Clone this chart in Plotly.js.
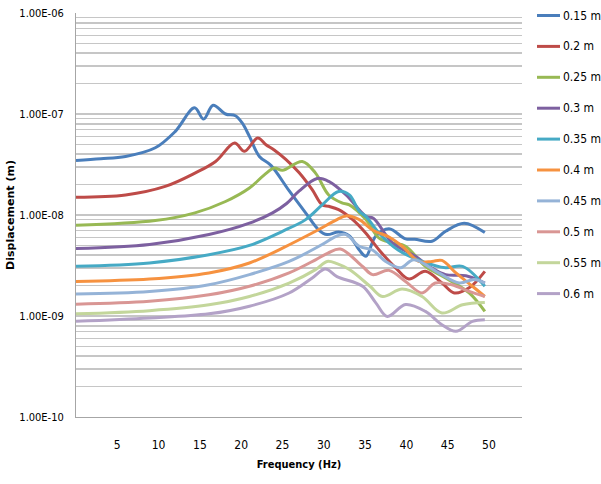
<!DOCTYPE html>
<html>
<head>
<meta charset="utf-8">
<script src="https://cdn.plot.ly/plotly-3.0.1.min.js"></script>
<style>html,body{margin:0;padding:0;background:#fff;}#chart{width:601px;height:484px;}</style>
</head>
<body>
<div id="chart"></div>
<script>
// Series names
const seriesNames = ['0.15 m','0.2 m','0.25 m','0.3 m','0.35 m','0.4 m','0.45 m','0.5 m','0.55 m','0.6 m'];

// Frequencies (Hz) and displacements (m) per series
const f015 = [0, 3, 6, 9.6, 12, 14.35, 15.45, 16.6, 18.1, 19.3, 20.1, 21, 22.2, 23.6, 25.8, 27.8, 29.4, 30.4, 31.8, 33.1, 34.3, 35.1, 36.3, 37.9, 39.9, 41, 43.1, 44.75, 47, 49.5];
const d015 = [3.47e-8, 3.6e-8, 3.8e-8, 4.63e-8, 6.7e-8, 1.15e-7, 8.9e-8, 1.22e-7, 1.0e-7, 9.6e-8, 8.2e-8, 6.0e-8, 3.8e-8, 3.1e-8, 1.74e-8, 1.05e-8, 7.1e-9, 6.4e-9, 6.8e-9, 6.2e-9, 4.5e-9, 3.9e-9, 6.2e-9, 7.3e-9, 5.8e-9, 5.75e-9, 5.5e-9, 6.9e-9, 8.3e-9, 6.7e-9];

const f020 = [0, 6, 10.8, 14.4, 16.9, 19.2, 20.4, 22, 23, 24, 25.4, 27, 28.6, 29.8, 30.6, 31.8, 33.5, 35.1, 36.7, 38.7, 40.3, 42.3, 44.3, 45.8, 47.6, 49.5];
const d020 = [1.5e-8, 1.58e-8, 1.92e-8, 2.6e-8, 3.39e-8, 5.16e-8, 4.27e-8, 5.8e-8, 4.97e-8, 4.4e-8, 3.55e-8, 2.63e-8, 1.78e-8, 1.26e-8, 1.22e-8, 1.13e-8, 9.0e-9, 6.6e-9, 4.5e-9, 3.0e-9, 2.32e-9, 2.77e-9, 2.12e-9, 1.69e-9, 1.9e-9, 2.77e-9];

const f025 = [0, 9.6, 14.4, 18.1, 21, 22.8, 24, 25, 27.4, 29, 30.6, 32.2, 33.1, 35.1, 36.7, 38.3, 39.9, 42.3, 44.75, 47.6, 49.5];
const d025 = [7.9e-9, 8.8e-9, 1.05e-8, 1.36e-8, 1.85e-8, 2.5e-8, 2.92e-8, 2.77e-8, 3.39e-8, 2.6e-8, 1.58e-8, 1.32e-8, 1.26e-8, 9.0e-9, 5.9e-9, 5.3e-9, 4.9e-9, 3.1e-9, 2.38e-9, 1.69e-9, 1.11e-9];

const f030 = [0, 8.9, 16.1, 21, 23.8, 25.5, 27, 29.2, 30.6, 32.7, 35.1, 36, 38.3, 41.1, 43.1, 44.75, 47.2, 49.5];
const d030 = [4.65e-9, 5.1e-9, 6.4e-9, 8.3e-9, 1.05e-8, 1.3e-8, 1.72e-8, 2.3e-8, 2.15e-8, 1.58e-8, 9.7e-9, 9.3e-9, 5.3e-9, 3.9e-9, 2.98e-9, 2.57e-9, 2.5e-9, 2.12e-9];

const f035 = [0, 8.9, 16.1, 21, 25, 27.8, 29.8, 31.8, 33.1, 34.3, 35.1, 36.7, 39, 41.9, 44.75, 46.8, 49.5];
const d035 = [3.1e-9, 3.35e-9, 4.05e-9, 5.0e-9, 6.9e-9, 9.0e-9, 1.26e-8, 1.71e-8, 1.58e-8, 1.09e-8, 9.7e-9, 6.6e-9, 4.5e-9, 3.47e-9, 3.0e-9, 3.1e-9, 1.97e-9];

const f040 = [0, 8.9, 16.1, 21, 25, 29, 31.6, 32.7, 34.3, 35.9, 37.9, 39.5, 41.5, 43.1, 44.3, 46, 48, 49.5];
const d040 = [2.2e-9, 2.32e-9, 2.67e-9, 3.35e-9, 4.7e-9, 6.9e-9, 9.0e-9, 9.8e-9, 9.0e-9, 7.1e-9, 6.05e-9, 4.9e-9, 3.47e-9, 3.47e-9, 3.55e-9, 2.67e-9, 1.97e-9, 1.56e-9];

const f045 = [0, 8.9, 16.1, 21, 25.8, 29.8, 31.6, 32.7, 34.3, 35.9, 37.5, 39.3, 40.9, 43.9, 46.4, 48.2, 49.5];
const d045 = [1.65e-9, 1.75e-9, 2.04e-9, 2.57e-9, 3.47e-9, 5.1e-9, 6.2e-9, 6.4e-9, 4.9e-9, 4.5e-9, 3.47e-9, 3.0e-9, 3.6e-9, 2.67e-9, 2.12e-9, 2.3e-9, 2.12e-9];

const f050 = [0, 8.9, 16.1, 21, 25.8, 29, 30.5, 32, 34.7, 35.9, 37.9, 39.9, 41.9, 43.5, 45.5, 47.6, 49.5];
const d050 = [1.31e-9, 1.4e-9, 1.62e-9, 1.97e-9, 2.67e-9, 3.6e-9, 4.2e-9, 4.6e-9, 3.09e-9, 2.57e-9, 2.83e-9, 2.2e-9, 1.69e-9, 2.12e-9, 2.04e-9, 1.75e-9, 1.56e-9];

const f055 = [0, 8.9, 16.1, 21, 25.8, 29, 30.4, 31.6, 33.1, 35.6, 37.1, 39.5, 41.9, 44.3, 46.8, 49.5];
const d055 = [1.05e-9, 1.13e-9, 1.29e-9, 1.56e-9, 2.12e-9, 2.88e-9, 3.47e-9, 3.3e-9, 2.88e-9, 1.97e-9, 1.56e-9, 1.85e-9, 1.56e-9, 1.07e-9, 1.29e-9, 1.36e-9];

const f060 = [0, 8.9, 16.1, 21, 25.8, 28.6, 30.2, 31.6, 34.7, 36.3, 37.7, 39.9, 42.3, 44.3, 46, 48, 49.5];
const d060 = [0.885e-9, 0.955e-9, 1.05e-9, 1.25e-9, 1.69e-9, 2.38e-9, 2.92e-9, 2.45e-9, 1.97e-9, 1.35e-9, 0.99e-9, 1.3e-9, 1.11e-9, 0.82e-9, 0.705e-9, 0.885e-9, 0.92e-9];

// Axis ticks
const xTicks = [5, 10, 15, 20, 25, 30, 35, 40, 45, 50];
const yDecades = [1e-10, 1e-9, 1e-8, 1e-7, 1e-6];
const yDecadeLabels = ['1.00E-10', '1.00E-09', '1.00E-08', '1.00E-07', '1.00E-06'];

const colors = ['#4A7EBB','#BE4B48','#98B954','#7D60A0','#46AAC5','#F69240','#95B3D7','#D99694','#C3D69B','#B3A2C7'];

const freqs = [f015,f020,f025,f030,f035,f040,f045,f050,f055,f060];
const disps = [d015,d020,d025,d030,d035,d040,d045,d050,d055,d060];

// Log grid tick values (1..9 per decade); labels only on decades
const yTickVals = [], yTickText = [];
yDecades.forEach((d, i) => {
  const maxK = (i === yDecades.length - 1) ? 1 : 9;
  for (let k = 1; k <= maxK; k++) {
    yTickVals.push(k * d);
    yTickText.push(k === 1 ? yDecadeLabels[i] : '');
  }
});

const traces = seriesNames.map((name, i) => ({
  x: freqs[i], y: disps[i], name: name, type: 'scatter', mode: 'lines',
  line: {color: colors[i], width: 3, shape: 'spline', smoothing: 1},
  showlegend: false
}));

const font = "'Liberation Sans Narrow', 'DejaVu Sans Condensed', Arial, sans-serif";

// Legend drawn at the right of the plot area (paper coords relative to plot area)
const plotL = 76, plotR = 522, plotT = 13, plotB = 417;
const px2x = p => (p - plotL) / (plotR - plotL);
const py2y = p => (plotB - p) / (plotB - plotT);
const legendShapes = [], legendAnnots = [];
seriesNames.forEach((name, i) => {
  const yy = py2y(15.5 + 30.9 * i);
  legendShapes.push({type: 'line', xref: 'paper', yref: 'paper', x0: px2x(537), x1: px2x(560), y0: yy, y1: yy,
    line: {color: colors[i], width: 3}});
  legendAnnots.push({xref: 'paper', yref: 'paper', x: px2x(561), y: yy, xanchor: 'left', yanchor: 'middle',
    text: name, showarrow: false, font: {family: font, size: 12, color: '#000'}});
});

const layout = {
  width: 601, height: 484,
  margin: {l: plotL, r: 601 - plotR, t: plotT, b: 484 - plotB},
  paper_bgcolor: '#ffffff', plot_bgcolor: '#ffffff',
  font: {family: font, size: 11, color: '#000'},
  showlegend: false,
  shapes: legendShapes,
  annotations: legendAnnots,
  xaxis: {
    range: [0, 54], tickvals: xTicks, ticktext: xTicks.map(String),
    showgrid: false, zeroline: false, showline: true, linecolor: '#a6a6a6', linewidth: 1,
    ticks: '', ticklabelstandoff: 17, tickfont: {family: font, size: 12},
    title: {text: '<b>Frequency (Hz)</b>', font: {family: font, size: 11}, standoff: 8}
  },
  yaxis: {
    type: 'log', range: [-10, -6], tickvals: yTickVals, ticktext: yTickText,
    showgrid: true, gridcolor: '#c6c6c6', gridwidth: 1.5, zeroline: false,
    showline: true, linecolor: '#a6a6a6', linewidth: 1, ticks: '', ticklabelstandoff: 9,
    tickfont: {family: font, size: 11},
    title: {text: '<b>Displacement (m)</b>', font: {family: "'DejaVu Sans', Arial, sans-serif", size: 11}, standoff: 2}
  }
};

Plotly.newPlot('chart', traces, layout, {staticPlot: true, displayModeBar: false});
</script>
</body>
</html>
